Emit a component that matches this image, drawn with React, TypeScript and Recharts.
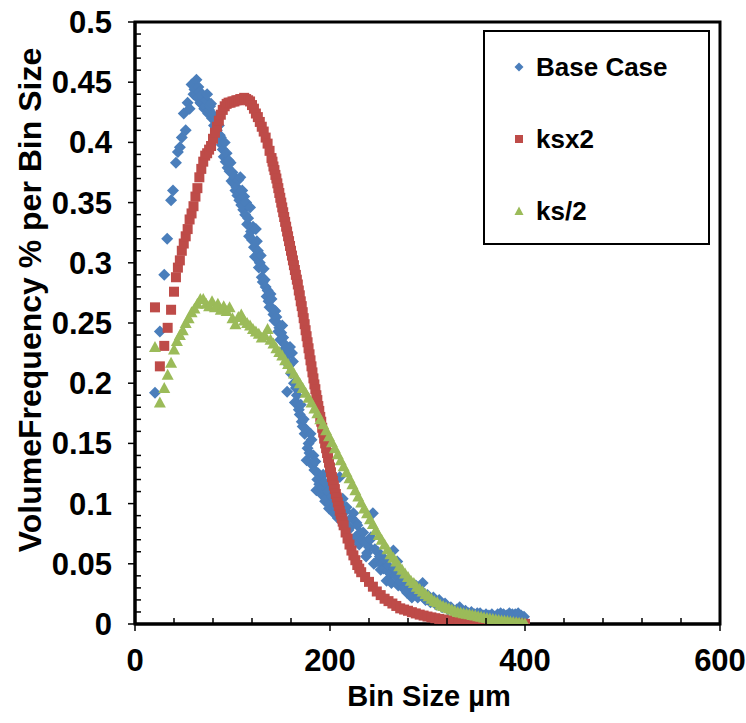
import React from 'react';
import { ScatterChart, Scatter, XAxis, YAxis, ReferenceArea } from 'recharts';

const FONT = 'Arial, "Liberation Sans", Helvetica, sans-serif';

// [bin size µm, volume frequency % per bin size]
const baseCase: [number, number][] = [
  [20.5, 0.192], [25.5, 0.243], [30, 0.29], [33, 0.32], [37, 0.352], [39, 0.36], [42, 0.383], [44, 0.392],
  [46, 0.396], [48, 0.404], [50, 0.424], [52, 0.41], [54, 0.433], [56, 0.428], [58, 0.448],
  [60, 0.44], [61, 0.444], [62, 0.445], [63, 0.452], [64, 0.437], [65, 0.446], [66, 0.442], [67, 0.433],
  [68, 0.432], [69, 0.44], [70, 0.437], [71, 0.428], [72, 0.43], [73, 0.435], [74, 0.44], [75, 0.424],
  [76, 0.427], [77, 0.43], [78, 0.432], [79, 0.42], [80, 0.423], [81, 0.414], [82, 0.418], [83, 0.412],
  [84, 0.41], [85, 0.404], [86, 0.414], [87, 0.406], [88, 0.404], [89, 0.398], [90, 0.394], [91, 0.388],
  [92, 0.4], [93, 0.384], [94, 0.391], [95, 0.379], [96, 0.385], [97, 0.376], [98, 0.383], [99, 0.368],
  [100, 0.375], [101, 0.366], [102, 0.371], [103, 0.36], [104, 0.363], [105, 0.356], [106, 0.369], [107, 0.352],
  [108, 0.371], [109, 0.348], [110, 0.36], [111, 0.344], [112, 0.355], [113, 0.34], [114, 0.35], [115, 0.332],
  [116, 0.337], [117, 0.322], [118, 0.346], [119, 0.326], [120, 0.319], [121, 0.33], [122, 0.313], [123, 0.305],
  [124, 0.328], [125, 0.318], [126, 0.31], [127, 0.296], [128, 0.3], [129, 0.306], [130, 0.288], [131, 0.284],
  [132, 0.295], [133, 0.286], [134, 0.28], [135, 0.272], [136, 0.277], [137, 0.268], [138, 0.263], [139, 0.274],
  [140, 0.27], [141, 0.262], [142, 0.257], [143, 0.252], [144, 0.26], [145, 0.255], [146, 0.25], [147, 0.243],
  [148, 0.246], [149, 0.236], [150, 0.242], [151, 0.248], [152, 0.238], [153, 0.228], [154, 0.232], [155, 0.222],
  [156, 0.193], [157, 0.229], [158, 0.215], [159, 0.23], [160, 0.208], [161, 0.225], [162, 0.218], [163, 0.2],
  [164, 0.184], [165, 0.196], [166, 0.19], [167, 0.183], [168, 0.178], [169, 0.174], [170, 0.182], [171, 0.168],
  [172, 0.164], [173, 0.17], [174, 0.158], [175, 0.162], [176, 0.136], [177, 0.146], [178, 0.15], [179, 0.142],
  [180, 0.158], [181, 0.153], [182, 0.132], [183, 0.14], [184, 0.128], [185, 0.135], [186, 0.111], [187, 0.12],
  [188, 0.125], [189, 0.116], [190, 0.122], [191, 0.108], [192, 0.113], [193, 0.124], [194, 0.118], [195, 0.102],
  [196, 0.104], [197, 0.112], [198, 0.11], [199, 0.096], [200, 0.1], [202, 0.106], [204, 0.092], [205, 0.098],
  [207, 0.097], [208, 0.088], [210, 0.122], [211, 0.1], [212, 0.09], [213, 0.104], [215, 0.085], [216, 0.094],
  [217, 0.097], [219, 0.078], [220, 0.08], [222, 0.088], [223, 0.07], [224, 0.092], [226, 0.072], [227, 0.084],
  [228, 0.082], [230, 0.066], [231, 0.076], [233, 0.07], [234, 0.076], [236, 0.068], [237, 0.056], [238, 0.059],
  [240, 0.064], [241, 0.07], [242, 0.072], [244, 0.092], [245, 0.05], [246, 0.062], [248, 0.052], [249, 0.06],
  [251, 0.056], [252, 0.045], [253, 0.05], [255, 0.046], [256, 0.054], [258, 0.036], [259, 0.044], [260, 0.048],
  [262, 0.042], [263, 0.034], [265, 0.061], [266, 0.046], [267, 0.04], [269, 0.052], [270, 0.032], [272, 0.035],
  [273, 0.042], [275, 0.03], [277, 0.038], [278, 0.03], [279, 0.026], [281, 0.033], [282, 0.028], [284, 0.022],
  [285, 0.024], [287, 0.028], [288, 0.032], [290, 0.022], [292, 0.026], [293, 0.028], [295, 0.034], [296, 0.022],
  [298, 0.02], [300, 0.024], [303, 0.018], [306, 0.022], [309, 0.016], [312, 0.02], [315, 0.014], [318, 0.017],
  [321, 0.012], [324, 0.014], [327, 0.011], [330, 0.012], [333, 0.014], [336, 0.01], [339, 0.011], [342, 0.009],
  [345, 0.01], [348, 0.008], [351, 0.009], [354, 0.009], [357, 0.007], [360, 0.008], [363, 0.007], [366, 0.008],
  [369, 0.006], [372, 0.008], [375, 0.009], [378, 0.008], [381, 0.007], [384, 0.009], [387, 0.008], [390, 0.008],
  [393, 0.009], [396, 0.007], [399, 0.006],
];

const ksx2: [number, number][] = [
  [20.5, 0.263], [25.5, 0.214], [30, 0.231], [33.5, 0.246], [37, 0.261],
  [40, 0.276], [42, 0.288], [44, 0.296], [46, 0.302], [48, 0.31], [50, 0.316], [52, 0.322], [54, 0.328],
  [56, 0.336], [58, 0.341], [60, 0.347], [62, 0.355], [64, 0.362], [66, 0.371], [68, 0.378], [70, 0.384],
  [72, 0.389], [74, 0.391], [76, 0.394], [78, 0.397], [80, 0.403], [82, 0.408], [84, 0.413], [86, 0.418],
  [88, 0.423], [90, 0.427], [92, 0.43], [94, 0.432], [96, 0.433], [98, 0.433], [100, 0.434], [102, 0.434],
  [104, 0.435], [106, 0.435], [108, 0.436], [110, 0.436], [112, 0.437], [114, 0.436], [116, 0.435], [118, 0.434],
  [120, 0.431], [122, 0.428], [124, 0.424], [126, 0.421], [128, 0.417], [130, 0.413], [132, 0.409], [134, 0.404],
  [136, 0.399], [138, 0.393], [140, 0.387], [141, 0.384], [142, 0.38], [143, 0.377], [144, 0.373], [145, 0.37],
  [146, 0.366], [147, 0.362], [148, 0.358], [149, 0.354], [150, 0.35], [151, 0.346], [152, 0.342], [153, 0.338],
  [154, 0.334], [155, 0.33], [156, 0.326], [157, 0.322], [158, 0.318], [159, 0.314], [160, 0.31], [161, 0.306],
  [162, 0.302], [163, 0.298], [164, 0.294], [165, 0.29], [166, 0.286], [167, 0.282], [168, 0.277], [169, 0.273],
  [170, 0.268], [171, 0.264], [172, 0.259], [173, 0.254], [174, 0.249], [175, 0.244], [176, 0.239], [177, 0.234],
  [178, 0.229], [179, 0.224], [180, 0.219], [181, 0.214], [182, 0.209], [183, 0.204], [184, 0.199], [185, 0.195],
  [186, 0.19], [187, 0.186], [188, 0.181], [189, 0.177], [190, 0.172], [191, 0.168], [192, 0.163], [193, 0.159],
  [194, 0.154], [195, 0.15], [196, 0.146], [197, 0.142], [198, 0.138], [199, 0.134], [200, 0.13], [201, 0.126],
  [202, 0.122], [203, 0.119], [204, 0.115], [205, 0.112], [206, 0.108], [207, 0.105], [208, 0.101], [209, 0.098],
  [210, 0.094], [211, 0.091], [212, 0.088], [213, 0.085], [214, 0.082],
  [216, 0.076], [218, 0.071], [220, 0.066], [222, 0.061], [224, 0.057], [226, 0.053], [228, 0.049], [230, 0.046],
  [232, 0.043], [236, 0.039], [240, 0.035], [244, 0.031], [248, 0.027], [252, 0.024], [256, 0.021], [260, 0.019],
  [264, 0.017], [268, 0.015], [272, 0.013], [276, 0.012], [280, 0.011], [284, 0.0098], [288, 0.0088], [292, 0.0078],
  [296, 0.007], [300, 0.0062], [304, 0.0055], [308, 0.0048], [312, 0.0042], [316, 0.0037], [320, 0.0032], [324, 0.0028],
  [328, 0.0024], [332, 0.0021], [336, 0.0018], [340, 0.0016], [344, 0.0014], [348, 0.0012], [352, 0.001], [356, 0.0009],
  [360, 0.0008], [364, 0.0007], [368, 0.0006], [372, 0.0005], [376, 0.0004], [380, 0.0004], [384, 0.0003], [388, 0.0003],
  [392, 0.0002], [396, 0.0002], [400, 0.0001],
];

const ksHalf: [number, number][] = [
  [20.5, 0.23], [25.5, 0.184], [30, 0.196], [33.5, 0.207], [37, 0.217],
  [40, 0.228], [43, 0.235], [46, 0.24], [49, 0.244], [52, 0.25], [55, 0.254], [58, 0.259], [61, 0.262],
  [64, 0.266], [67, 0.27], [70, 0.27], [73, 0.266], [76, 0.264], [79, 0.268], [82, 0.263], [85, 0.266],
  [88, 0.261], [91, 0.264], [94, 0.26], [97, 0.263], [100, 0.254], [103, 0.249], [106, 0.255], [109, 0.257],
  [112, 0.252], [115, 0.25], [118, 0.248], [121, 0.245], [124, 0.243], [127, 0.241], [130, 0.238], [133, 0.24],
  [136, 0.245], [139, 0.236], [142, 0.233], [145, 0.229], [148, 0.226], [151, 0.223], [154, 0.219], [157, 0.216],
  [160, 0.212], [163, 0.208], [166, 0.204], [169, 0.2], [172, 0.196], [175, 0.192], [178, 0.188], [181, 0.184],
  [184, 0.179], [187, 0.175], [190, 0.17], [193, 0.166], [196, 0.161], [199, 0.156], [202, 0.151], [205, 0.146],
  [208, 0.141], [211, 0.136], [214, 0.131], [217, 0.126], [220, 0.121], [223, 0.116], [226, 0.111], [229, 0.106],
  [232, 0.101], [235, 0.096], [238, 0.092], [241, 0.087], [244, 0.083], [247, 0.078], [250, 0.074], [253, 0.07],
  [256, 0.066], [259, 0.062], [262, 0.058], [265, 0.055], [268, 0.052], [271, 0.048], [274, 0.045], [277, 0.042],
  [280, 0.039], [283, 0.036], [286, 0.034], [289, 0.031], [292, 0.029], [295, 0.027], [298, 0.025], [301, 0.023],
  [304, 0.021], [307, 0.019], [310, 0.018], [313, 0.016], [316, 0.015], [319, 0.014], [322, 0.013], [325, 0.012],
  [328, 0.011], [331, 0.01], [334, 0.0095], [337, 0.009], [340, 0.0085], [343, 0.008], [346, 0.0075], [349, 0.007],
  [352, 0.0065], [355, 0.006], [358, 0.0055], [361, 0.005], [364, 0.0046], [367, 0.0042], [370, 0.0038], [373, 0.0034],
  [376, 0.003], [379, 0.0027], [382, 0.0024], [385, 0.002], [388, 0.0017], [391, 0.0014], [394, 0.0011], [397, 0.0008],
  [400, 0.0005],
];

const seriesNames = ['Base Case', 'ksx2', 'ks/2'];
const xMajorTicks = [0, 200, 400, 600];
const xAllTicks = [0, 40, 80, 120, 160, 200, 240, 280, 320, 360, 400, 440, 480, 520, 560, 600];
const yMajorLabels = ['0', '0.05', '0.1', '0.15', '0.2', '0.25', '0.3', '0.35', '0.4', '0.45', '0.5'];
const yAllTicks: number[] = Array.from({ length: 51 }, (_, i) => i / 100);

const BLUE = '#4A7EBB';
const RED = '#BE4B48';
const GREEN = '#9BBB59';

const toPoints = (arr: [number, number][]) => arr.map(([x, y]) => ({ x, y }));

const Diamond = (p: any) => {
  const { cx, cy } = p;
  const r = 6;
  return <polygon points={`${cx},${cy - r} ${cx + r},${cy} ${cx},${cy + r} ${cx - r},${cy}`} fill={BLUE} />;
};
const Square = (p: any) => {
  const { cx, cy } = p;
  return <rect x={cx - 5} y={cy - 5} width={10} height={10} fill={RED} />;
};
const Triangle = (p: any) => {
  const { cx, cy } = p;
  return <polygon points={`${cx},${cy - 6} ${cx + 6},${cy + 5} ${cx - 6},${cy + 5}`} fill={GREEN} />;
};

const TICK_FONT = 31;

const XTick = (props: any) => {
  const { x, y, payload } = props;
  const v = payload.value;
  const major = xMajorTicks.includes(v);
  if (!major) {
    return <line x1={x} y1={y} x2={x} y2={y - 6} stroke="#000" strokeWidth={1.5} />;
  }
  return (
    <g>
      <line x1={x} y1={y} x2={x} y2={y + 7} stroke="#000" strokeWidth={1.5} />
      <text x={x} y={y + 47} textAnchor="middle" fontFamily={FONT} fontWeight="bold" fontSize={TICK_FONT} fill="#000">
        {String(v)}
      </text>
    </g>
  );
};

const YTick = (props: any) => {
  const { x, y, payload } = props;
  const idx = Math.round(payload.value * 100);
  if (idx % 5 !== 0) {
    return <line x1={x} y1={y} x2={x + 6} y2={y} stroke="#000" strokeWidth={1.5} />;
  }
  return (
    <g>
      <line x1={x} y1={y} x2={x - 7} y2={y} stroke="#000" strokeWidth={1.5} />
      <text x={x - 23} y={y + 11} textAnchor="end" fontFamily={FONT} fontWeight="bold" fontSize={TICK_FONT} fill="#000">
        {yMajorLabels[idx / 5]}
      </text>
    </g>
  );
};

const LegendMarker = ({ kind }: { kind: number }) => (
  <svg width={12} height={12} style={{ position: 'absolute', left: -6, top: -6 }}>
    {kind === 0 && <polygon points="6,1.5 10.5,6 6,10.5 1.5,6" fill={BLUE} />}
    {kind === 1 && <rect x={2} y={2} width={8} height={8} fill={RED} />}
    {kind === 2 && <polygon points="6,1.5 10.5,10 1.5,10" fill={GREEN} />}
  </svg>
);

export default function App() {
  return (
    <div style={{ position: 'relative', width: 746, height: 723 }}>
      <style>{`html, body { margin: 0; padding: 0; overflow: hidden; }`}</style>
      <ScatterChart width={746} height={723} margin={{ top: 22, right: 26, left: 0, bottom: 0 }}>
        <XAxis
          type="number"
          dataKey="x"
          domain={[0, 600]}
          ticks={xAllTicks}
          interval={0}
          height={99}
          tickSize={0}
          tickMargin={0}
          tickLine={false}
          axisLine={{ stroke: '#000', strokeWidth: 3 }}
          tick={<XTick />}
          allowDataOverflow
          label={{
            value: 'Bin Size µm',
            content: (p: any) => {
              const vb = p.viewBox;
              return (
                <text x={429} y={vb.y + 82} textAnchor="middle" fontFamily={FONT} fontWeight="bold" fontSize={29} fill="#000">
                  Bin Size µm
                </text>
              );
            },
          }}
        />
        <YAxis
          type="number"
          dataKey="y"
          domain={[0, 0.5]}
          ticks={yAllTicks}
          interval={0}
          width={135}
          tickSize={0}
          tickMargin={0}
          tickLine={false}
          axisLine={{ stroke: '#000', strokeWidth: 3 }}
          tick={<YTick />}
          allowDataOverflow
          label={{
            value: 'VolumeFrequency % per Bin Size',
            content: () => {
              const cx = 30;
              const cy = 300;
              return (
                <text x={cx} y={cy} transform={`rotate(-90 ${cx} ${cy})`} dy={11} textAnchor="middle" fontFamily={FONT} fontWeight="bold" fontSize={32} fill="#000">
                  VolumeFrequency % per Bin Size
                </text>
              );
            },
          }}
        />
        <Scatter name={seriesNames[0]} data={toPoints(baseCase)} fill={BLUE} shape={Diamond} isAnimationActive={false} />
        <Scatter name={seriesNames[1]} data={toPoints(ksx2)} fill={RED} shape={Square} isAnimationActive={false} />
        <Scatter name={seriesNames[2]} data={toPoints(ksHalf)} fill={GREEN} shape={Triangle} isAnimationActive={false} />
        <ReferenceArea x1={0} x2={600} y1={0} y2={0.5} fill="none" stroke="#000" strokeWidth={3} />
      </ScatterChart>
      <div
        style={{
          position: 'absolute',
          left: 483,
          top: 30,
          width: 227,
          height: 215,
          boxSizing: 'border-box',
          border: '2px solid #000',
          background: '#fff',
          fontFamily: FONT,
          fontWeight: 'bold',
          fontSize: 26,
          color: '#000',
        }}
      >
        {seriesNames.map((name, i) => (
          <div key={name} style={{ position: 'absolute', left: 0, top: 35 + i * 72, width: '100%' }}>
            <div style={{ position: 'absolute', left: 34, top: 0 }}>
              <LegendMarker kind={i} />
            </div>
            <div style={{ position: 'absolute', left: 51, top: -16, lineHeight: '32px', whiteSpace: 'nowrap' }}>{name}</div>
          </div>
        ))}
      </div>
    </div>
  );
}
